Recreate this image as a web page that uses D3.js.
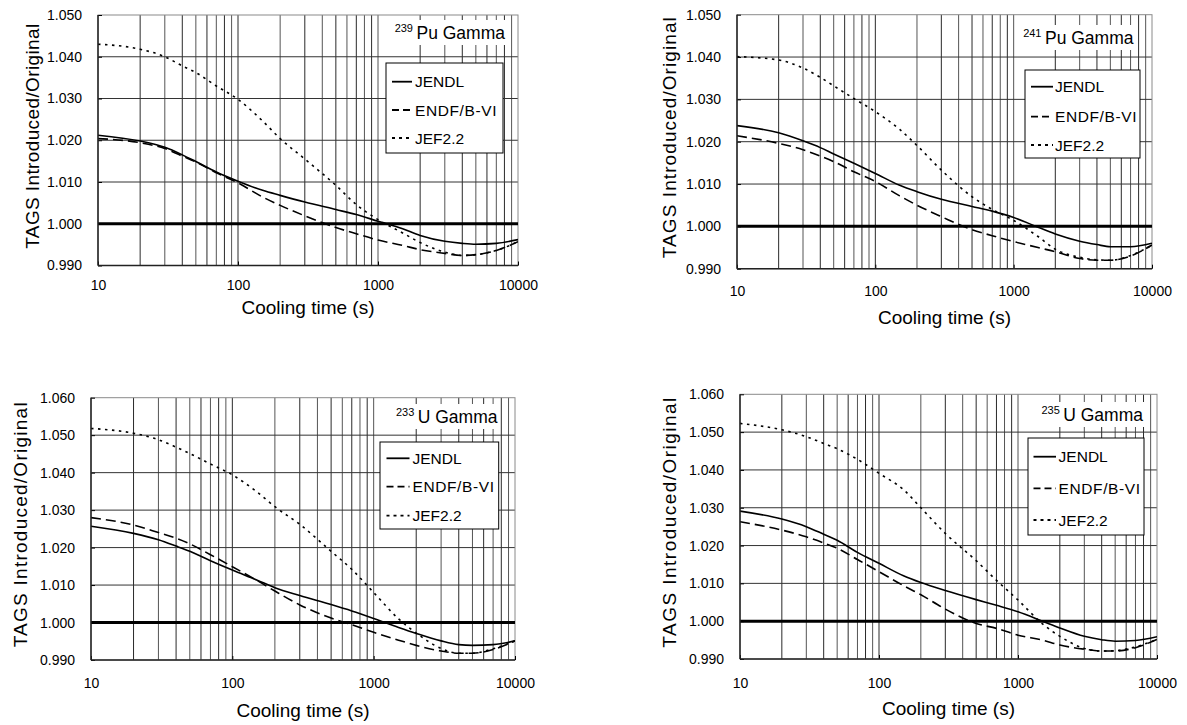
<!doctype html>
<html>
  <head>
    <style>
      body { margin: 0; background: #fff; }
      text { font-family: 'Liberation Sans', Arial, sans-serif; fill: #000; }
    </style>
  </head>
  <body>
    <svg id='chart0'></svg>

    <script src='https://d3js.org/d3.v7.min.js'></script>
    <script>
      const coolingTimes = [10, 20, 30, 40, 50, 70, 100, 150, 200, 300, 500, 700,
                            1000, 1500, 2000, 3000, 4000, 5000, 7000, 10000];

      // 239Pu gamma
      const pu239Jendl = [1.0212, 1.0198, 1.0183, 1.0165, 1.0149, 1.0124, 1.0102, 1.0080, 1.0068, 1.0052,
                          1.0034, 1.0022, 1.0006, 0.9988, 0.9972, 0.9958, 0.9953, 0.9951, 0.9953, 0.9962];
      const pu239Endf  = [1.0204, 1.0194, 1.0180, 1.0162, 1.0148, 1.0122, 1.0098, 1.0064, 1.0044, 1.0019,
                          0.9991, 0.9976, 0.9961, 0.9948, 0.9938, 0.9929, 0.9924, 0.9926, 0.9936, 0.9957];
      const pu239Jef   = [1.0430, 1.0418, 1.0400, 1.0378, 1.0362, 1.0330, 1.0298, 1.0246, 1.0204, 1.0155,
                          1.0092, 1.0046, 1.0010, 0.9978, 0.9955, 0.9932, 0.9924, 0.9926, 0.9936, 0.9957];

      // 241Pu gamma
      const pu241Jendl = [1.0238, 1.0221, 1.0202, 1.0186, 1.0171, 1.0149, 1.0125, 1.0097, 1.0082, 1.0064,
                          1.0047, 1.0036, 1.0021, 0.9998, 0.9982, 0.9965, 0.9957, 0.9952, 0.9952, 0.9960];
      const pu241Endf  = [1.0214, 1.0196, 1.0181, 1.0166, 1.0153, 1.0129, 1.0106, 1.0072, 1.0050, 1.0023,
                          0.9992, 0.9978, 0.9964, 0.9950, 0.9940, 0.9924, 0.9920, 0.9920, 0.9930, 0.9956];
      const pu241Jef   = [1.0401, 1.0393, 1.0374, 1.0352, 1.0332, 1.0302, 1.0271, 1.0229, 1.0191, 1.0133,
                          1.0070, 1.0040, 1.0014, 0.9976, 0.9946, 0.9927, 0.9921, 0.9920, 0.9931, 0.9956];

      // 233U gamma
      const u233Jendl = [1.0257, 1.0238, 1.0221, 1.0204, 1.0190, 1.0165, 1.0140, 1.0113, 1.0093, 1.0072,
                         1.0048, 1.0031, 1.0011, 0.9987, 0.9971, 0.9951, 0.9941, 0.9939, 0.9941, 0.9951];
      const u233Endf  = [1.0280, 1.0260, 1.0240, 1.0225, 1.0210, 1.0181, 1.0149, 1.0112, 1.0084, 1.0047,
                         1.0012, 0.9994, 0.9974, 0.9953, 0.9939, 0.9924, 0.9918, 0.9918, 0.9928, 0.9951];
      const u233Jef   = [1.0518, 1.0505, 1.0488, 1.0468, 1.0451, 1.0423, 1.0394, 1.0348, 1.0309, 1.0262,
                         1.0190, 1.0142, 1.0080, 1.0010, 0.9972, 0.9931, 0.9918, 0.9918, 0.9930, 0.9951];

      // 235U gamma
      const u235Jendl = [1.0291, 1.0270, 1.0250, 1.0230, 1.0214, 1.0182, 1.0153, 1.0120, 1.0102, 1.0081,
                         1.0057, 1.0042, 1.0025, 1.0000, 0.9982, 0.9960, 0.9951, 0.9947, 0.9949, 0.9959];
      const u235Endf  = [1.0263, 1.0241, 1.0223, 1.0207, 1.0193, 1.0163, 1.0131, 1.0094, 1.0070, 1.0032,
                         0.9994, 0.9981, 0.9963, 0.9950, 0.9937, 0.9926, 0.9921, 0.9921, 0.9930, 0.9952];
      const u235Jef   = [1.0523, 1.0506, 1.0488, 1.0470, 1.0456, 1.0428, 1.0391, 1.0348, 1.0300, 1.0232,
                         1.0160, 1.0108, 1.0056, 0.9993, 0.9960, 0.9928, 0.9921, 0.9922, 0.9932, 0.9952];

      const seriesNames = ['JENDL', 'ENDF/B-VI', 'JEF2.2'];
      const xTicks = [10, 100, 1000, 10000];
      const puTicks = [0.990, 1.000, 1.010, 1.020, 1.030, 1.040, 1.050];
      const uTicks = [0.990, 1.000, 1.010, 1.020, 1.030, 1.040, 1.050, 1.060];
      const xTitle = 'Cooling time (s)';
      const yTitle = 'TAGS Introduced/Original';

      // layout of each panel (plot box, legend box, label, titles)
      const panels = [
        {mass: '239', nuc: 'Pu', series: [pu239Jendl, pu239Endf, pu239Jef], ticks: puTicks,
         l: 98, r: 518, t: 15, b: 265.5, xPad: 15, coolY: 307, titleX: 32, titleLen: 225,
         leg: {x0: 386, x1: 503, y0: 63, y1: 153, rows: [81.7, 110, 138], s0: 392, s1: 412, tx: 415},
         lab: {r: 505, cy: 33}},
        {mass: '241', nuc: 'Pu', series: [pu241Jendl, pu241Endf, pu241Jef], ticks: puTicks,
         l: 737, r: 1152, t: 14.7, b: 268.7, xPad: 17, coolY: 317, titleX: 669, titleLen: 241,
         leg: {x0: 1025, x1: 1140, y0: 70, y1: 158, rows: [86.7, 116.7, 145], s0: 1031, s1: 1053, tx: 1055},
         lab: {r: 1133.5, cy: 38}},
        {mass: '233', nuc: 'U', series: [u233Jendl, u233Endf, u233Jef], ticks: uTicks,
         l: 91, r: 515, t: 397.7, b: 660, xPad: 18, coolY: 710, titleX: 20, titleLen: 245,
         leg: {x0: 380, x1: 498.7, y0: 442, y1: 529, rows: [458.3, 486.7, 515.7], s0: 386.5, s1: 409.5, tx: 412.5},
         lab: {r: 497.5, cy: 417}},
        {mass: '235', nuc: 'U', series: [u235Jendl, u235Endf, u235Jef], ticks: uTicks,
         l: 740, r: 1157, t: 394.3, b: 659, xPad: 19, coolY: 708, titleX: 669, titleLen: 250,
         leg: {x0: 1028, x1: 1144, y0: 438, y1: 535, rows: [456.7, 488.3, 520], s0: 1033.5, s1: 1056, tx: 1058.6},
         lab: {r: 1143, cy: 415}},
      ];

      const dashes = [null, '10,5', '2.5,4.5'];

      const width = 1187;
      const height = 725;
      const svg = d3.select('svg#chart0')
                    .attr('width', width)
                    .attr('height', height);

      // minor gridline positions on the log axis
      const minorTimes = [];
      for (const d of [10, 100, 1000])
          for (let m = 1; m < 10; m++)
              if (d * m > 10) minorTimes.push(d * m);

      panels.forEach((p, i) => {
          const x = d3.scaleLog().domain([10, 10000]).range([p.l, p.r]);
          const y = d3.scaleLinear()
                      .domain([p.ticks[0], p.ticks[p.ticks.length - 1]])
                      .range([p.b, p.t]);
          const g = svg.append('g');

          g.append('clipPath').attr('id', 'clip' + i)
           .append('rect')
           .attr('x', p.l).attr('y', p.t)
           .attr('width', p.r - p.l).attr('height', p.b - p.t);

          // grid
          g.append('g').selectAll('line')
           .data(minorTimes)
           .join('line')
           .attr('x1', d => x(d)).attr('x2', d => x(d))
           .attr('y1', p.t).attr('y2', p.b)
           .attr('stroke', (d, k) => k % 2 ? '#555' : '#2a2a2a').attr('stroke-width', 1);
          g.append('g').selectAll('line')
           .data(p.ticks.slice(1, -1))
           .join('line')
           .attr('x1', p.l).attr('x2', p.r)
           .attr('y1', d => y(d)).attr('y2', d => y(d))
           .attr('stroke', '#333').attr('stroke-width', 1);

          // plot frame
          g.append('rect')
           .attr('x', p.l).attr('y', p.t)
           .attr('width', p.r - p.l).attr('height', p.b - p.t)
           .attr('fill', 'none').attr('stroke', '#8a8a8a');

          // reference line at 1.000
          g.append('line')
           .attr('x1', p.l).attr('x2', p.r)
           .attr('y1', y(1)).attr('y2', y(1))
           .attr('stroke', '#000').attr('stroke-width', 3);

          // curves
          const line = d3.line()
                         .x((d, k) => x(coolingTimes[k]))
                         .y(d => y(d))
                         .curve(d3.curveMonotoneX);
          g.append('g').attr('clip-path', `url(#clip${i})`)
           .selectAll('path')
           .data(p.series)
           .join('path')
           .attr('d', d => line(d))
           .attr('fill', 'none')
           .attr('stroke', '#000')
           .attr('stroke-width', 1.6)
           .attr('stroke-dasharray', (d, k) => dashes[k]);

          // isotope label on a white patch
          const lab = g.append('g');
          const labText = lab.append('text')
                             .attr('x', p.lab.r).attr('y', p.lab.cy)
                             .attr('text-anchor', 'end')
                             .attr('dominant-baseline', 'central');
          labText.append('tspan').attr('font-size', 11).attr('dy', -5).text(p.mass);
          labText.append('tspan').attr('font-size', 17.5).attr('dy', 5).text('\u2009' + p.nuc + ' Gamma');
          const bb = labText.node().getBBox();
          lab.insert('rect', 'text')
             .attr('x', bb.x - 4).attr('y', bb.y - 2)
             .attr('width', bb.width + 6).attr('height', bb.height + 4)
             .attr('fill', '#fff');

          // legend
          const L = p.leg;
          g.append('rect')
           .attr('x', L.x0).attr('y', L.y0)
           .attr('width', L.x1 - L.x0).attr('height', L.y1 - L.y0)
           .attr('fill', '#fff').attr('stroke', '#000').attr('stroke-width', 1);
          const row = g.append('g').selectAll('g')
                       .data(seriesNames)
                       .join('g')
                       .attr('transform', (d, k) => `translate(0,${L.rows[k]})`);
          row.append('line')
             .attr('x1', L.s0).attr('x2', L.s1)
             .attr('stroke', '#000').attr('stroke-width', 1.8)
             .attr('stroke-dasharray', (d, k) => k == 1 ? '7,4' : (k == 2 ? '3,4' : null));
          row.append('text')
             .attr('x', L.tx)
             .attr('dominant-baseline', 'central')
             .attr('font-size', 15.5)
             .attr('letter-spacing', (d, k) => k == 1 ? 0.6 : 0)
             .text(d => d);

          // axes, with short inward ticks
          g.append('g')
           .attr('transform', `translate(${p.l},0)`)
           .call(d3.axisLeft(y).tickValues(p.ticks)
                   .tickFormat(d3.format('.3f'))
                   .tickSize(-4).tickPadding(16));
          g.append('g')
           .attr('transform', `translate(0,${p.b})`)
           .call(d3.axisBottom(x).tickValues(xTicks)
                   .tickFormat(d3.format('d'))
                   .tickSize(-4).tickPadding(p.xPad));
          g.selectAll('.domain').remove();
          g.selectAll('.tick line').attr('stroke', '#000');
          g.selectAll('.tick text')
           .attr('font-size', 14)
           .attr('font-family', "'Liberation Sans', Arial, sans-serif")
           .attr('fill', '#000');

          // axis lines (left and bottom darker)
          g.append('line')
           .attr('x1', p.l).attr('x2', p.l).attr('y1', p.t).attr('y2', p.b)
           .attr('stroke', '#222').attr('stroke-width', 1.5);
          g.append('line')
           .attr('x1', p.l).attr('x2', p.r).attr('y1', p.b).attr('y2', p.b)
           .attr('stroke', '#222').attr('stroke-width', 1.5);

          // titles
          g.append('text')
           .attr('x', (p.l + p.r) / 2).attr('y', p.coolY)
           .attr('text-anchor', 'middle')
           .attr('dominant-baseline', 'central')
           .attr('font-size', 19)
           .text(xTitle);
          g.append('text')
           .attr('transform', `translate(${p.titleX},${(p.t + p.b) / 2 - 4}) rotate(-90)`)
           .attr('text-anchor', 'middle')
           .attr('dominant-baseline', 'central')
           .attr('font-size', 19)
           .attr('textLength', p.titleLen)
           .attr('lengthAdjust', 'spacing')
           .text(yTitle);
      });
    </script>
  </body>
</html>
